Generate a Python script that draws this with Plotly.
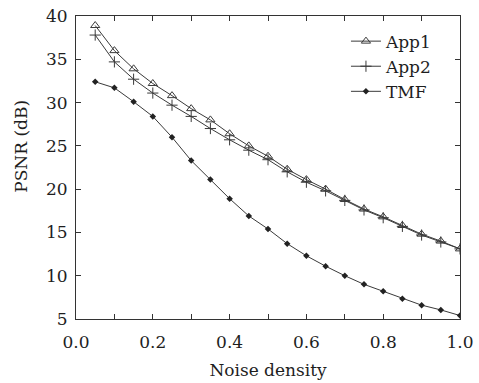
import plotly.graph_objects as go

noise = [0.05, 0.10, 0.15, 0.20, 0.25, 0.30, 0.35, 0.40, 0.45, 0.50,
         0.55, 0.60, 0.65, 0.70, 0.75, 0.80, 0.85, 0.90, 0.95, 1.00]
app1 = [38.9, 36.0, 33.9, 32.2, 30.8, 29.3, 28.0, 26.4, 25.0, 23.8,
        22.3, 21.1, 20.0, 18.8, 17.7, 16.8, 15.8, 14.8, 14.0, 13.1]
app2 = [37.8, 34.7, 32.7, 31.1, 29.7, 28.4, 27.0, 25.7, 24.5, 23.4,
        22.0, 20.8, 19.8, 18.7, 17.6, 16.7, 15.7, 14.7, 13.9, 13.1]
tmf = [32.4, 31.7, 30.1, 28.4, 26.0, 23.3, 21.1, 18.9, 16.9, 15.4,
       13.7, 12.3, 11.1, 10.0, 9.0, 8.2, 7.35, 6.6, 6.05, 5.4]

line_col = "#3a3a3a"
font_fam = "DejaVu Serif"
txt_col = "#1e1e1e"

fig = go.Figure()
fig.add_trace(go.Scatter(x=noise, y=app1, name="App1", mode="lines+markers",
                         line=dict(color=line_col, width=1),
                         marker=dict(symbol="triangle-up-open", size=8,
                                     color=line_col, line=dict(width=1, color=line_col))))
fig.add_trace(go.Scatter(x=noise, y=app2, name="App2", mode="lines+markers",
                         line=dict(color=line_col, width=1),
                         marker=dict(symbol="cross-thin-open", size=8,
                                     color=line_col, line=dict(width=1, color=line_col))))
fig.add_trace(go.Scatter(x=noise, y=tmf, name="TMF", mode="lines+markers",
                         line=dict(color=line_col, width=1),
                         marker=dict(symbol="diamond", size=5, color="#222",
                                     line=dict(width=0))))

axis_common = dict(showline=True, linecolor="#333", linewidth=1, mirror="ticks",
                   ticks="inside", ticklen=5, tickcolor="#333", showgrid=False,
                   zeroline=False,
                   tickfont=dict(family=font_fam, size=17, color=txt_col))

fig.update_xaxes(range=[0, 1], dtick=0.2, tick0=0, tickformat=".1f",
                 ticklabelstandoff=8,
                 minor=dict(dtick=0.1, ticks="inside", ticklen=5, tickcolor="#333"),
                 title=dict(text="Noise density", font=dict(family=font_fam, size=17, color=txt_col),
                            standoff=12),
                 **axis_common)
fig.update_yaxes(range=[5, 40], dtick=5, tick0=5, ticklabelstandoff=4,
                 **axis_common)

fig.add_annotation(text="PSNR (dB)", textangle=-90, xref="paper", yref="paper",
                   x=-0.142, y=0.57, xanchor="center", yanchor="middle", showarrow=False,
                   font=dict(family=font_fam, size=17, color=txt_col))

fig.update_layout(
    width=479, height=383,
    margin=dict(l=76, r=19, t=16, b=64, autoexpand=False),
    plot_bgcolor="white", paper_bgcolor="white",
    font=dict(family=font_fam, size=17, color=txt_col),
    legend=dict(x=0.94, y=0.975, xanchor="right", yanchor="top",
                bgcolor="rgba(0,0,0,0)", borderwidth=0,
                font=dict(family=font_fam, size=17, color=txt_col),
                itemwidth=30, tracegroupgap=0),
)

fig.write_html("out.html", config={"displayModeBar": False},
               post_script="document.body.style.margin='0';")
